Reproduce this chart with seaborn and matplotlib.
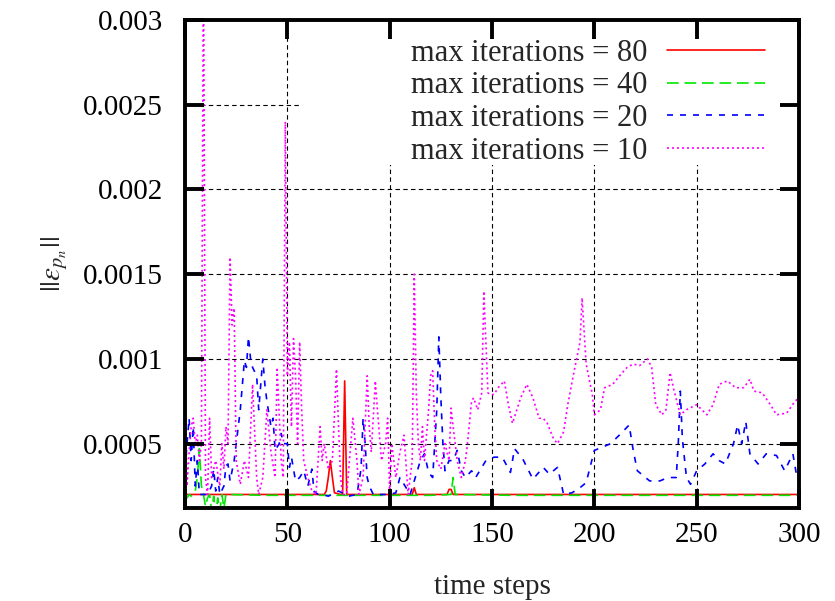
import matplotlib
matplotlib.use("Agg")
import matplotlib.pyplot as plt
from matplotlib.patches import Rectangle
import seaborn as sns

# values (time step, error norm)
t80 = [0, 20, 40, 60, 68, 69, 70, 71, 72, 73, 76, 77, 78, 79, 80, 100, 111, 112, 113, 128, 129, 130, 131, 150, 200, 250, 300]
e80 = [0.0002, 0.0002, 0.0002, 0.0002, 0.0002, 0.00022, 0.0003, 0.0004, 0.0003, 0.00021, 0.0002, 0.0002, 0.00087, 0.0002,
       0.0002, 0.0002, 0.0002, 0.00024, 0.0002, 0.0002, 0.00023, 0.00023, 0.0002, 0.0002, 0.0002, 0.0002, 0.0002]

t40 = [0, 1, 2, 3, 4, 5, 6, 7, 8, 9, 10, 11, 12, 13, 14, 15, 16, 17, 18, 19, 20, 40, 80, 120, 130, 131, 132, 160, 200, 250, 300]
e40 = [0.0002, 0.00018, 0.0002, 0.00019, 0.0002, 0.00022, 0.0003, 0.00047, 0.00025, 0.0002, 0.00013, 0.00018, 0.0002,
       0.0001, 0.00019, 0.00008, 0.00018, 0.0001, 0.0002, 0.00012, 0.0002, 0.000195, 0.000195, 0.000195, 0.0002,
       0.0003, 0.0002, 0.000195, 0.000195, 0.000195, 0.000195]

t20 = [0, 1, 2, 3, 4, 5, 6, 7, 9, 11, 13, 14, 15, 16, 17, 19, 20, 21, 22, 24, 25, 27, 29, 30, 31, 32, 33, 35, 36, 37,
       38, 39, 40, 42, 43, 44, 46, 47, 48, 50, 51, 52, 54, 56, 58, 60, 62, 63, 65, 67, 70, 75, 80, 84, 86, 87, 88, 89,
       90, 92, 95, 100, 103, 105, 107, 110, 113, 115, 117, 119, 121, 123, 124, 125, 126, 127, 129, 131, 133, 135, 137,
       140, 142, 144, 147, 151, 155, 159, 161, 165, 170, 175, 178, 182, 185, 189, 192, 196, 200, 204, 208, 213, 217,
       219, 221, 227, 232, 236, 240, 241, 242, 243, 245, 247, 250, 254, 258, 261, 264, 268, 270, 272, 274, 276, 280,
       284, 289, 293, 297, 299]
e20 = [0.00035, 0.0005, 0.00065, 0.0004, 0.0006, 0.00025, 0.0004, 0.0002, 0.0002, 0.0002, 0.00025, 0.00035, 0.00022,
       0.0003, 0.0002, 0.00025, 0.00037, 0.00038, 0.00028, 0.0004, 0.0005, 0.0007, 0.00099, 0.00095, 0.00113, 0.001,
       0.00095, 0.0009, 0.0007, 0.00085, 0.001, 0.00085, 0.00075, 0.0006, 0.00065, 0.00046, 0.0005, 0.00056, 0.0005,
       0.0005, 0.00036, 0.00042, 0.00028, 0.0003, 0.00034, 0.00025, 0.00035, 0.00022, 0.0002, 0.0002, 0.00019, 0.00022,
       0.00019, 0.0002, 0.00035, 0.00065, 0.0005, 0.0003, 0.00025, 0.0002, 0.0002, 0.0002, 0.00021, 0.0003, 0.00026,
       0.0002, 0.00032, 0.0004, 0.00044, 0.00033, 0.0003, 0.0007, 0.00113, 0.00077, 0.0005, 0.00034, 0.0004, 0.0004,
       0.00046, 0.00034, 0.0003, 0.00034, 0.0003, 0.00034, 0.0004, 0.00042, 0.00042, 0.00033, 0.00047, 0.00041,
       0.00029, 0.00036, 0.00032, 0.00036, 0.0002, 0.00021, 0.00023, 0.00027, 0.00046, 0.00048, 0.0005, 0.00056,
       0.00061, 0.00046, 0.00034, 0.00028, 0.00028, 0.0003, 0.0003, 0.0005, 0.00081, 0.00053, 0.0003, 0.00026,
       0.00034, 0.00038, 0.00044, 0.0004, 0.00038, 0.0005, 0.00061, 0.0005, 0.00063, 0.00044, 0.00038, 0.00044,
       0.00043, 0.00034, 0.00044, 0.0003]

t10 = [0, 1, 2, 3, 4, 5, 6, 7, 8, 9, 10, 11, 12, 13, 15, 17, 18, 19, 20, 21, 22, 23, 24, 25, 27, 29, 31, 33, 35, 36,
       38, 40, 42, 44, 45, 47, 48, 49, 50, 51, 52, 53, 54, 55, 56, 57, 58, 60, 62, 64, 66, 67, 68, 70, 72, 74, 75, 76,
       77, 79, 81, 82, 84, 85, 87, 89, 90, 91, 93, 94, 96, 98, 99, 100, 101, 103, 105, 107, 109, 111, 112, 113, 114,
       115, 116, 117, 119, 120, 121, 122, 123, 125, 127, 129, 130, 131, 133, 135, 137, 138, 140, 141, 143, 145, 146,
       147, 148, 149, 151, 153, 156, 158, 160, 164, 167, 170, 173, 175, 177, 180, 182, 185, 187, 190, 193, 194, 196,
       199, 200, 203, 205, 209, 213, 216, 219, 222, 226, 228, 230, 233, 235, 237, 239, 242, 245, 250, 255, 258, 261,
       265, 269, 273, 276, 278, 282, 286, 289, 294, 298, 300]
e10 = [0.0008, 0.00025, 0.00045, 0.0006, 0.00065, 0.0005, 0.00055, 0.0004, 0.0005, 0.0034, 0.0003, 0.0002, 0.00065,
       0.0003, 0.0004, 0.00025, 0.0005, 0.00035, 0.0006, 0.0005, 0.0016, 0.0012, 0.0013, 0.0004, 0.00026, 0.0004,
       0.0003, 0.00085, 0.0003, 0.0002, 0.0003, 0.0007, 0.00045, 0.0003, 0.00095, 0.0004, 0.0003, 0.0024, 0.0009,
       0.0011, 0.0006, 0.00112, 0.0009, 0.0005, 0.0011, 0.0007, 0.0004, 0.0003, 0.00022, 0.0002, 0.0006, 0.0004,
       0.0005, 0.00035, 0.0004, 0.00094, 0.0006, 0.0003, 0.0002, 0.0002, 0.0005, 0.00065, 0.0004, 0.0002, 0.0003,
       0.0009, 0.0006, 0.00045, 0.00087, 0.0007, 0.0004, 0.0005, 0.00065, 0.0002, 0.0005, 0.0003, 0.00045, 0.00055,
       0.0002, 0.0004, 0.0015, 0.0008, 0.0005, 0.0004, 0.0006, 0.0004, 0.0007, 0.0009, 0.00093, 0.0006, 0.0004,
       0.00035, 0.0005, 0.0004, 0.00071, 0.0006, 0.0004, 0.0003, 0.0004, 0.0005, 0.00075, 0.00077, 0.0007, 0.0008,
       0.0014, 0.0011, 0.0008, 0.00079, 0.00079, 0.00083, 0.00087, 0.00073, 0.00062, 0.00077, 0.00085, 0.00077,
       0.00065, 0.00065, 0.00062, 0.00053, 0.0005, 0.00057, 0.00073, 0.00092, 0.0011, 0.00136, 0.00097, 0.00079,
       0.00067, 0.0007, 0.00083, 0.00085, 0.00091, 0.00095, 0.00097, 0.00096, 0.001, 0.00095, 0.00073, 0.00067,
       0.0007, 0.00092, 0.00081, 0.00067, 0.0007, 0.00073, 0.00067, 0.00073, 0.00085, 0.00087, 0.00083, 0.00083,
       0.00088, 0.00081, 0.0008, 0.00073, 0.00067, 0.00068, 0.00075, 0.00077]

labels = ["max iterations = 80", "max iterations = 40", "max iterations = 20", "max iterations = 10"]
xticks = [0, 50, 100, 150, 200, 250, 300]
yticks = [0.0005, 0.001, 0.0015, 0.002, 0.0025, 0.003]
yticklabels = ["0.0005", "0.001", "0.0015", "0.002", "0.0025", "0.003"]

sns.set_style("ticks")
plt.rcParams.update({
    "font.family": ["Liberation Serif", "DejaVu Serif"],
    "mathtext.fontset": "stix",
    "axes.axisbelow": False,
    "xtick.bottom": True, "xtick.top": True, "ytick.left": True, "ytick.right": True,
    "xtick.direction": "in", "ytick.direction": "in",
    "xtick.color": "black", "ytick.color": "black",
    "xtick.major.size": 14, "ytick.major.size": 14,
    "xtick.major.width": 2.8, "ytick.major.width": 2.8,
})

fig = plt.figure(figsize=(8.35, 6.01), dpi=100)
ax = fig.add_axes([0.2216, 0.1547, 0.7353, 0.812])

styles = [("#ff0000", "-"), ("#00e800", (0, (7, 3.5))), ("#0000ff", (0, (3.6, 4.2))), ("#ff00ff", (0, (1.2, 1.8)))]
for (t, e), lab, (col, ls) in zip([(t80, e80), (t40, e40), (t20, e20), (t10, e10)], labels, styles):
    sns.lineplot(x=t, y=e, ax=ax, color=col, linestyle=ls, lw=1.2, label=lab, errorbar=None, zorder=2)

ax.set_xlim(0, 300)
ax.set_ylim(0.00012, 0.003)
ax.set_xticks(xticks)
ax.set_yticks(yticks)
ax.set_yticklabels(yticklabels)

# dashed grid at the ticks, hidden behind a white key area like the original
for x in xticks[1:-1]:
    ax.axvline(x, color="black", lw=0.8, linestyle=(0, (4, 3)), zorder=0.5)
for y in yticks[:-1]:
    ax.axhline(y, color="black", lw=0.8, linestyle=(0, (4, 3)), zorder=0.5)
ax.add_patch(Rectangle((0.187, 0.703), 0.813, 0.297, transform=ax.transAxes,
                       facecolor="white", edgecolor="none", zorder=1))

for s in ax.spines.values():
    s.set_visible(True)
    s.set_linewidth(2.8)
    s.set_color("black")
    s.set_zorder(3)
ax.xaxis.set_zorder(2.5)
ax.yaxis.set_zorder(2.5)
ax.tick_params(which="major", direction="in", length=14, width=2.8, bottom=True, left=True, top=True,
               right=True, labelsize=21, color="black")
ax.tick_params(axis="x", pad=10)
ax.tick_params(axis="y", pad=16)

ax.set_xlabel("time steps", fontsize=21, labelpad=19)
ax.set_ylabel(r"$||\varepsilon_{p_n}||$", fontsize=21, labelpad=9)

ax.legend(loc="upper right", bbox_to_anchor=(0.945, 0.962), frameon=False, markerfirst=False,
          handlelength=3.2, handletextpad=0.65, labelspacing=0.12, fontsize=22,
          borderaxespad=0, borderpad=0)

fig.savefig("out.png", dpi=100)
